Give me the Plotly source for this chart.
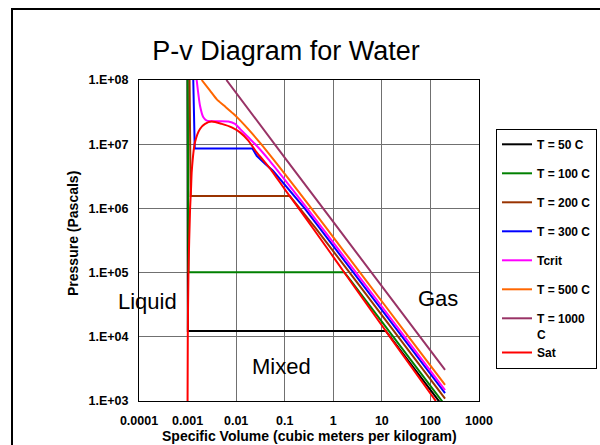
import plotly.graph_objects as go

# ---------------- data (specific volume m^3/kg, pressure Pa) ----------------
v_50 = [0.000995, 0.001012, 12.03, 20.0, 50.0, 100.0, 200.0]
p_50 = [1.0e8, 12350, 12350, 7450, 2980, 1490, 745]

v_100 = [0.001005, 0.001043, 1.672, 2.0, 5.0, 20.0, 50.0, 200.0]
p_100 = [1.0e8, 101420, 101420, 86100, 34400, 8600, 3440, 860]

v_200 = [0.00110, 0.001157, 0.1272, 0.2060, 0.4249, 2.172, 21.82, 200.0]
p_200 = [1.0e8, 1.554e6, 1.554e6, 1.0e6, 5.0e5, 1.0e5, 1.0e4, 1091]

v_300 = [0.00131, 0.001404, 0.02167, 0.0265, 0.0393, 0.0574, 0.2579, 2.639, 26.4, 200.0]
p_300 = [1.0e8, 8.58e6, 8.58e6, 6.6e6, 4.95e6, 3.85e6, 1.0e6, 1.0e5, 1.0e4, 1322]

v_crit = [0.00154, 0.00180, 0.00211, 0.00248, 0.00430, 0.00690, 0.00948, 0.0120,
          0.0178, 0.0286, 0.0459, 0.0631, 0.29, 2.95, 29.6, 200.0]
p_crit = [1.0e8, 4.0e7, 2.62e7, 2.33e7, 2.27e7, 2.25e7, 2.07e7, 1.73e7,
          1.28e7, 8.9e6, 5.87e6, 4.35e6, 1.0e6, 1.0e5, 1.0e4, 1480]

v_500 = [0.00195, 0.0029, 0.0040, 0.00562, 0.00868, 0.01113, 0.01477, 0.0208,
         0.03279, 0.06858, 0.1757, 0.3541, 0.7109, 3.565, 35.65, 200.0]
p_500 = [1.0e8, 6.85e7, 5.0e7, 4.0e7, 3.0e7, 2.5e7, 2.0e7, 1.5e7,
         1.0e7, 5.0e6, 2.0e6, 1.0e6, 5.0e5, 1.0e5, 1.0e4, 1783]

v_1000 = [0.0063, 0.0111, 0.1, 1.0, 10.0, 100.0, 200.0]
p_1000 = [1.0e8, 5.7e7, 6.2e6, 6.15e5, 6.1e4, 6.1e3, 3.05e3]

v_sat = [0.001000, 0.001010, 0.001043, 0.001127, 0.001177, 0.00122, 0.00142, 0.00180,
         0.00229, 0.00314, 0.00505, 0.00811, 0.0120, 0.0178, 0.0265, 0.0393, 0.0540,
         0.0996, 0.1944, 0.3748, 0.8857, 1.673, 3.240, 7.649, 14.67, 28.19, 67.0, 129.2]
p_sat = [1.0e3, 1.0e4, 1.013e5, 1.0e6, 2.0e6, 3.85e6, 1.07e7, 1.73e7,
         2.07e7, 2.25e7, 2.07e7, 1.83e7, 1.53e7, 1.14e7, 7.45e6, 5.2e6, 3.85e6,
         2.0e6, 1.0e6, 5.0e5, 2.0e5, 1.013e5, 5.0e4, 2.0e4, 1.0e4, 5.0e3, 2.0e3, 1.0e3]

series_names = ["T = 50 C", "T = 100 C", "T = 200 C", "T = 300 C", "Tcrit",
                "T = 500 C", "T = 1000<br>C", "Sat"]
series_v = [v_50, v_100, v_200, v_300, v_crit, v_500, v_1000, v_sat]
series_p = [p_50, p_100, p_200, p_300, p_crit, p_500, p_1000, p_sat]
series_colors = ["#000000", "#008000", "#993300", "#0000FF", "#FF00FF",
                 "#FF6600", "#993366", "#FF0000"]
series_groups = ["g1", "g2", "g3", "g4", "g5", "g6", "g7", "g7"]
series_smooth = [False, False, False, False, True, True, False, True]

x_tickvals = [1e-4, 1e-3, 1e-2, 1e-1, 1, 10, 100, 1000]
x_ticktext = ["0.0001", "0.001", "0.01", "0.1", "1", "10", "100", "1000"]
y_tickvals = [1e3, 1e4, 1e5, 1e6, 1e7, 1e8]
y_ticktext = ["1.E+03", "1.E+04", "1.E+05", "1.E+06", "1.E+07", "1.E+08"]

FONT = "Arial, Liberation Sans, Helvetica, sans-serif"

fig = go.Figure()
for name, v, p, c, g, sm in zip(series_names, series_v, series_p, series_colors,
                                 series_groups, series_smooth):
    line = dict(color=c, width=2)
    if sm:
        line.update(shape="spline", smoothing=0.6)
    fig.add_trace(go.Scatter(x=v, y=p, mode="lines", name=name, line=line,
                             legendgroup=g))

W, H = 600, 445
L, R, T, B = 139, 121, 80, 44
PW, PH = W - L - R, H - T - B

fig.update_layout(
    width=W, height=H,
    margin=dict(l=L, r=R, t=T, b=B, autoexpand=False),
    paper_bgcolor="white", plot_bgcolor="white",
    font=dict(family=FONT, color="black"),
    title=dict(text="P-v Diagram for Water", x=286 / W, xref="container",
               xanchor="center", y=1 - 51 / H, yanchor="middle",
               font=dict(size=27, family=FONT, color="black")),
    showlegend=True,
    legend=dict(x=(597 - L) / PW, y=(H - B - 129) / PH, xanchor="right", yanchor="top",
                bordercolor="black", borderwidth=1, bgcolor="white",
                font=dict(size=12, family=FONT, weight="bold"),
                traceorder="grouped", tracegroupgap=10, valign="top",
                itemwidth=30),
    xaxis=dict(type="log", range=[-4, 3], tickvals=x_tickvals, ticktext=x_ticktext,
               showgrid=True, gridcolor="#707070", gridwidth=1,
               showline=True, linecolor="black", linewidth=1, mirror=True,
               ticks="", ticklabelstandoff=8,
               tickfont=dict(size=12.5, family=FONT, weight="bold", color="black")),
    yaxis=dict(type="log", range=[3, 8], tickvals=y_tickvals, ticktext=y_ticktext,
               showgrid=True, gridcolor="#707070", gridwidth=1,
               showline=True, linecolor="black", linewidth=1, mirror=True,
               ticks="", ticklabelstandoff=7,
               tickfont=dict(size=12.5, family=FONT, weight="bold", color="black")),
)

annotations = [
    dict(text="<b>Pressure (Pascals)</b>", textangle=-90, xref="paper", yref="paper",
         x=(73 - L) / PW, y=(H - B - 234) / PH, xanchor="center", yanchor="middle",
         showarrow=False, font=dict(size=14, family=FONT, color="black")),
    dict(text="<b>Specific Volume (cubic meters per kilogram)</b>", xref="paper",
         yref="paper", x=0.5, y=(H - B - 436) / PH, xanchor="center", yanchor="middle",
         showarrow=False, font=dict(size=14, family=FONT, color="black")),
    dict(text="Liquid", x=-3.835, y=4.555, xref="x", yref="y", showarrow=False,
         font=dict(size=22, family=FONT, color="black")),
    dict(text="Mixed", x=-1.076, y=3.539, xref="x", yref="y", showarrow=False,
         font=dict(size=22, family=FONT, color="black")),
    dict(text="Gas", x=2.156, y=4.602, xref="x", yref="y", showarrow=False,
         font=dict(size=22, family=FONT, color="black")),
]
fig.update_layout(annotations=annotations)

# outer chart-area frame
fig.add_shape(type="rect", xref="paper", yref="paper",
              x0=(12 - L) / PW, x1=1.6, y0=-0.5, y1=(H - B - 9) / PH,
              line=dict(color="black", width=2), fillcolor="rgba(0,0,0,0)",
              layer="below")

fig.write_html("out.html")
